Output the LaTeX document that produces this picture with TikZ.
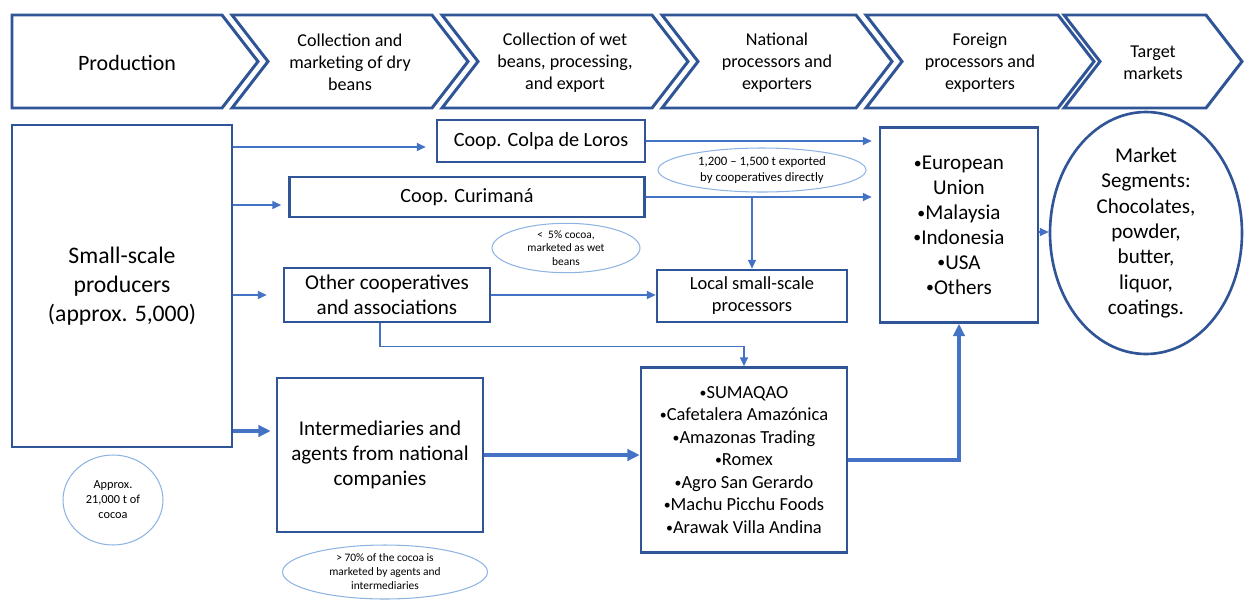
\documentclass[tikz,border=0pt]{standalone}
\usepackage{fontspec}
\usepackage{graphicx}
\setmainfont{Carlito}
\usetikzlibrary{shapes.geometric,calc,arrows.meta}

\definecolor{boxblue}{HTML}{2F5597}
\definecolor{arrowblue}{HTML}{4472C4}
\definecolor{noteblue}{HTML}{8EB4E3}

\newcommand{\blt}{\raisebox{0.12ex}{\scalebox{0.75}{•}}}

\tikzset{
  stagebox/.style={draw=boxblue, line width=1.7pt, fill=white},
  stagetext/.style={align=center, font=\fontsize{10.3}{12.5}\selectfont},
  actor/.style={draw=boxblue, line width=1.5pt, align=center, inner sep=2pt},
  note/.style={draw=noteblue, ellipse, line width=0.6pt, align=center, inner sep=0pt},
  flow/.style={draw=arrowblue, line width=0.9pt, -{Triangle[length=5pt,width=4.5pt]}},
  mainflow/.style={draw=arrowblue, line width=2pt, -{Triangle[length=7pt,width=6.5pt]}}
}

\begin{document}
\begin{tikzpicture}[x=0.02cm, y=-0.02cm]
\useasboundingbox (0,0) rectangle (1244,599);

% Stages of the chain along the top
\draw[stagebox] (12,15) -- (222,15) -- (258,61.5) -- (222,108) -- (12,108) -- cycle;
\node[stagetext, font=\fontsize{12.5}{15}\selectfont] (stage1) at (127,62.5) {Production};
\foreach \l/\t/\txt [count=\i from 2] in {232/468/{Collection and\\marketing of dry\\beans},
    442/688/{Collection of wet\\beans, processing,\\and export},
    662/892/{National\\processors and\\exporters},
    866/1094/{Foreign\\processors and\\exporters},
    1064/1242/{Target\\markets}} {
  \draw[stagebox] (\l,15) -- (\t-36,15) -- (\t,61.5) -- (\t-36,108) -- (\l,108) -- (\l+36,61.5) -- cycle;
  \node[stagetext] (stage\i) at ({(\l+\t)/2},62.5) {\txt};
}

% Actors
\node[actor, minimum width=4.4cm, minimum height=6.44cm, font=\fontsize{13.5}{16.5}\selectfont] (prod) at (122,286) {Small-scale\\producers\\(approx. 5,000)};
\node[actor, minimum width=4.16cm, minimum height=0.84cm, font=\fontsize{11.5}{14}\selectfont] (colpa) at (541,141) {Coop. Colpa de Loros};
\node[actor, minimum width=7.1cm, minimum height=0.8cm, font=\fontsize{11.5}{14}\selectfont] (curi) at (467,197) {Coop. Curimaná};
\node[actor, minimum width=4.12cm, minimum height=1.08cm, font=\fontsize{12}{14.5}\selectfont] (others) at (387,295) {Other cooperatives\\and associations};
\node[actor, minimum width=3.8cm, minimum height=1.04cm, font=\fontsize{10.5}{12.5}\selectfont] (local) at (752,296) {Local small-scale\\processors};
\node[actor, minimum width=4.12cm, minimum height=3.08cm, font=\fontsize{12}{14.3}\selectfont] (inter) at (380,455) {Intermediaries and\\agents from national\\companies};
\node[actor, minimum width=4.12cm, minimum height=3.7cm, font=\fontsize{10.5}{12.8}\selectfont] (natl) at (744,460) {\blt SUMAQAO\\\blt Cafetalera Amazónica\\\blt Amazonas Trading\\\blt Romex\\\blt Agro San Gerardo\\\blt Machu Picchu Foods\\\blt Arawak Villa Andina};
\node[actor, minimum width=3.16cm, minimum height=3.9cm, font=\fontsize{12}{14.2}\selectfont] (foreign) at (959,225) {\blt European\\Union\\\blt Malaysia\\\blt Indonesia\\\blt USA\\\blt Others};
\node[actor, ellipse, inner sep=0pt, minimum width=3.84cm, minimum height=4.34cm, font=\fontsize{12}{14.5}\selectfont] (market) at (1146,233) {Market\\Segments:\\Chocolates,\\powder,\\butter,\\liquor,\\coatings.};

% Notes on volumes
\node[note, minimum width=2cm, minimum height=1.8cm, font=\fontsize{7}{8.5}\selectfont] (nvolume) at (113,500) {Approx.\\21,000 t of\\cocoa};
\node[note, minimum width=4.16cm, minimum height=0.88cm, font=\fontsize{7.3}{9}\selectfont] (nexport) at (762,170) {1,200 – 1,500 t exported\\by cooperatives directly};
\node[note, minimum width=2.96cm, minimum height=0.94cm, font=\fontsize{6.5}{7.7}\selectfont] (nwet) at (566,248) {<~~5\% cocoa,\\marketed as wet\\beans};
\node[note, minimum width=4.1cm, minimum height=1.08cm, font=\fontsize{6.5}{8}\selectfont] (nagents) at (385,572) {> 70\% of the cocoa is\\marketed by agents and\\intermediaries};

% Flows from producers
\draw[flow, shorten >=0.2cm] ($(prod.east |- colpa.west)+(0,6)$) -- ($(colpa.west)+(0,6)$);
\draw[flow, shorten >=0.14cm] ($(prod.east |- curi.west)+(0,8)$) -- ($(curi.west)+(0,8)$);
\draw[flow, shorten >=0.32cm] (prod.east |- others.west) -- (others.west);
\draw[mainflow, shorten >=0.1cm] ($(prod.east |- inter.west)+(0,-24)$) -- ($(inter.west)+(0,-24)$);
% Flows to processors and exporters
\draw[flow, shorten >=0.14cm] (colpa.east) -- (foreign.west |- colpa.east);
\draw[flow, shorten >=0.14cm] (curi.east) -- (foreign.west |- curi.east);
\draw[flow] (local.north |- curi.east) -- (local.north);
\draw[flow] (others.east) -- (local.west |- others.east);
\draw[flow] ($(others.south)+(-7,0)$) -- ++(0,23) -| (natl.north);
\draw[mainflow] (inter.east) -- (natl.west |- inter.east);
\draw[mainflow] (natl.east) -| (foreign.south);
\draw[flow] ($(foreign.east)+(0,7)$) -- ($(market.west |- foreign.east)+(0,7)$);
\end{tikzpicture}
\end{document}
